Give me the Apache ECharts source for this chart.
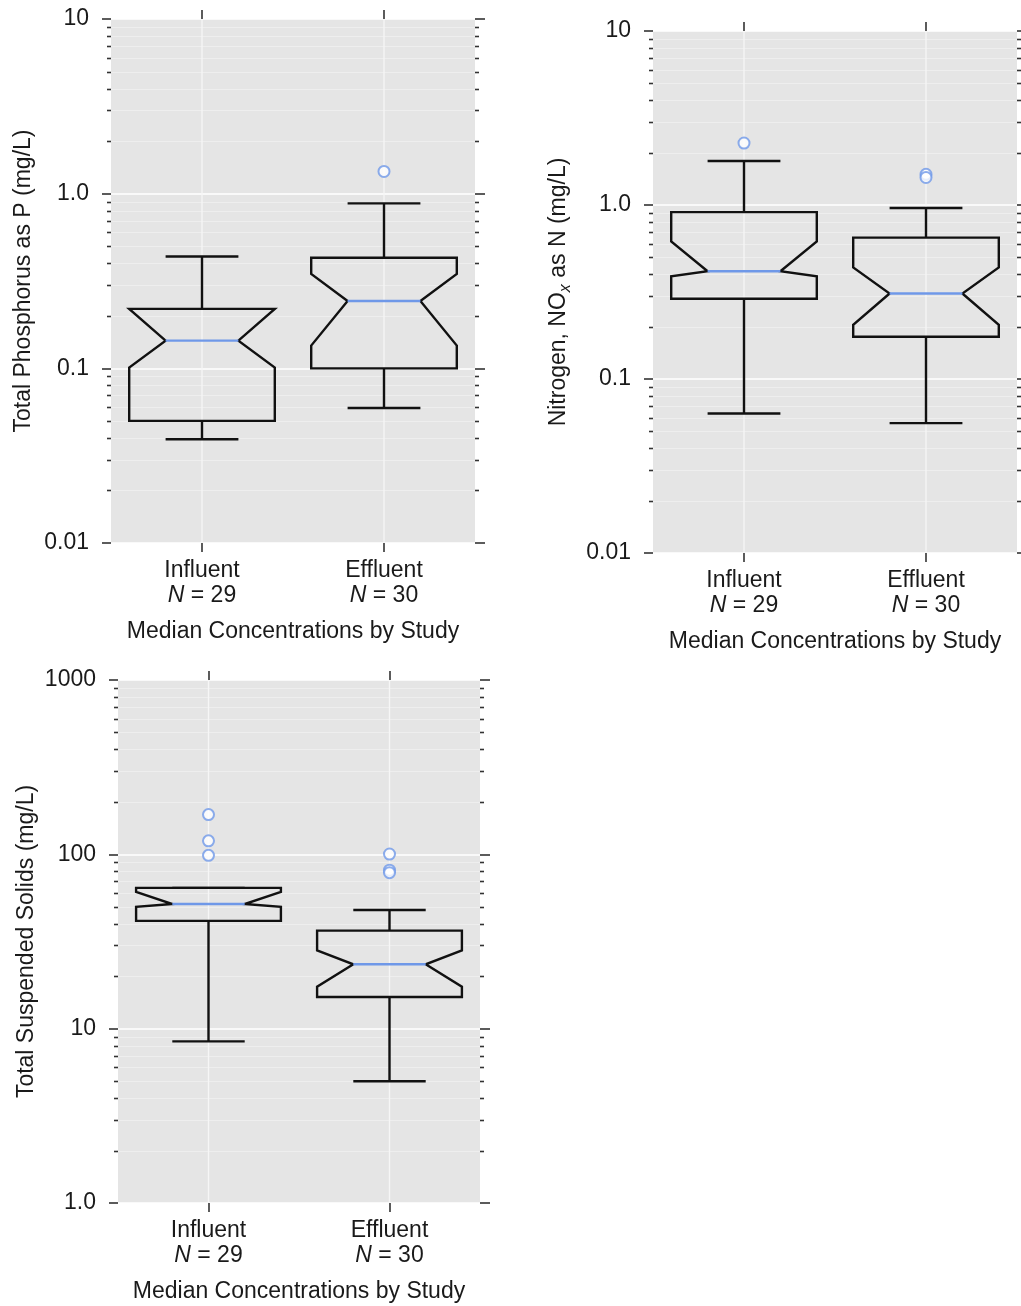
<!DOCTYPE html>
<html>
<head>
<meta charset="utf-8">
<script src="https://cdn.jsdelivr.net/npm/echarts@6/dist/echarts.min.js"></script>
<style>
  html, body { margin: 0; padding: 0; background: #ffffff; }
  #chart { width: 1021px; height: 1306px; }
</style>
</head>
<body>
<div id="chart"></div>
<script>
// Study categories and sample sizes
const categories = ['Influent', 'Effluent'];
const sampleCounts = [29, 30];

// Box statistics per category:
// [lowWhisker, q1, notchLow, median, notchHigh, q3, highWhisker]
const tpInfluent = [0.0393, 0.050, 0.101, 0.144, 0.219, 0.219, 0.437];
const tpEffluent = [0.0593, 0.100, 0.135, 0.243, 0.347, 0.430, 0.880];
const tpOutliers = [[1, 1.34]];

const noxInfluent = [0.0634, 0.289, 0.389, 0.416, 0.617, 0.910, 1.79];
const noxEffluent = [0.0558, 0.175, 0.205, 0.310, 0.438, 0.649, 0.962];
const noxOutliers = [[0, 2.27], [1, 1.50], [1, 1.44]];

const tssInfluent = [8.46, 41.5, 50.0, 51.9, 60.8, 64.2, 64.2];
const tssEffluent = [4.99, 15.2, 17.4, 23.4, 28.1, 36.5, 47.9];
const tssOutliers = [[0, 169], [0, 119.5], [0, 98.7], [1, 100.4], [1, 81.1], [1, 78.5]];

// Axis ticks
const lowTicks = [0.01, 0.1, 1, 10];
const lowTickLabels = ['0.01', '0.1', '1.0', '10'];
const lowMinorTicks = [0.02, 0.03, 0.04, 0.05, 0.06, 0.07, 0.08, 0.09,
                       0.2, 0.3, 0.4, 0.5, 0.6, 0.7, 0.8, 0.9,
                       2, 3, 4, 5, 6, 7, 8, 9];
const tssTicks = [1, 10, 100, 1000];
const tssTickLabels = ['1.0', '10', '100', '1000'];
const tssMinorTicks = [2, 3, 4, 5, 6, 7, 8, 9,
                       20, 30, 40, 50, 60, 70, 80, 90,
                       200, 300, 400, 500, 600, 700, 800, 900];

const FONT = "'Liberation Sans', Arial, Helvetica, sans-serif";
const TEXT = '#1a1a1a';
const TICK = '#333333';
const BLUE = '#6f98e8';
const PANEL_BG = '#e5e5e5';

const panels = [
  { grid: { left: 111, top: 19, width: 364, height: 524 },
    min: 0.01, max: 10, ticks: lowTicks, labels: lowTickLabels, minor: lowMinorTicks,
    name: 'Total Phosphorus as P (mg/L)', nameGap: 76,
    boxes: [tpInfluent, tpEffluent], outliers: tpOutliers },
  { grid: { left: 653, top: 31, width: 364, height: 522 },
    min: 0.01, max: 10, ticks: lowTicks, labels: lowTickLabels, minor: lowMinorTicks,
    name: '{t|Nitrogen, NO}{s|x}{t| as N (mg/L)}', nameGap: 79,
    boxes: [noxInfluent, noxEffluent], outliers: noxOutliers },
  { grid: { left: 118, top: 680, width: 362, height: 523 },
    min: 1, max: 1000, ticks: tssTicks, labels: tssTickLabels, minor: tssMinorTicks,
    name: 'Total Suspended Solids (mg/L)', nameGap: 80,
    boxes: [tssInfluent, tssEffluent], outliers: tssOutliers }
];

function tickFormatter(ticks, labels) {
  return function (v) {
    for (let i = 0; i < ticks.length; i++) {
      if (Math.abs(Math.log10(ticks[i]) - Math.log10(v)) < 1e-6) return labels[i];
    }
    return '';
  };
}

// Faint minor grid lines plus short minor ticks on both vertical edges
function renderMinor(params, api) {
  const cs = params.coordSys;
  const y = Math.round(api.coord([0, api.value(1)])[1]) + 0.5;
  return {
    type: 'group',
    children: [
      { type: 'line', shape: { x1: cs.x, y1: y, x2: cs.x + cs.width, y2: y },
        style: { stroke: '#eeeeee', lineWidth: 1 } },
      { type: 'line', shape: { x1: cs.x - 4, y1: y, x2: cs.x, y2: y },
        style: { stroke: TICK, lineWidth: 1.6 } },
      { type: 'line', shape: { x1: cs.x + cs.width, y1: y, x2: cs.x + cs.width + 4, y2: y },
        style: { stroke: TICK, lineWidth: 1.6 } }
    ]
  };
}

// Notched box with whiskers and a median line
function renderBox(params, api) {
  const cs = params.coordSys;
  const cat = api.value(0);
  const wl = api.value(1), q1 = api.value(2), nl = api.value(3), med = api.value(4),
        nh = api.value(5), q3 = api.value(6), wh = api.value(7);
  const band = api.size([1, 1], [cat, med])[0];
  const half = band * 0.4;
  const notch = half * 0.5;
  const cap = half * 0.5;
  const cx = api.coord([cat, med])[0];
  const y = v => api.coord([cat, v])[1];
  const black = { stroke: '#111111', lineWidth: 2.4, fill: null };
  return {
    type: 'group',
    children: [
      { type: 'line', z2: 0, shape: { x1: cx, y1: cs.y, x2: cx, y2: cs.y + cs.height },
        style: { stroke: '#f6f6f6', lineWidth: 1.3 } },
      { type: 'line', z2: 1, shape: { x1: cx, y1: y(q3), x2: cx, y2: y(wh) }, style: black },
      { type: 'line', z2: 1, shape: { x1: cx - cap, y1: y(wh), x2: cx + cap, y2: y(wh) }, style: black },
      { type: 'line', z2: 1, shape: { x1: cx, y1: y(q1), x2: cx, y2: y(wl) }, style: black },
      { type: 'line', z2: 1, shape: { x1: cx - cap, y1: y(wl), x2: cx + cap, y2: y(wl) }, style: black },
      { type: 'polygon', z2: 2, shape: { points: [
          [cx - half, y(q3)], [cx + half, y(q3)], [cx + half, y(nh)],
          [cx + notch, y(med)], [cx + half, y(nl)], [cx + half, y(q1)],
          [cx - half, y(q1)], [cx - half, y(nl)], [cx - notch, y(med)],
          [cx - half, y(nh)] ] },
        style: { stroke: '#111111', lineWidth: 2.4, fill: null, lineJoin: 'miter' } },
      { type: 'line', z2: 3, shape: { x1: cx - notch, y1: y(med), x2: cx + notch, y2: y(med) },
        style: { stroke: BLUE, lineWidth: 2.4 } }
    ]
  };
}

const grids = [], xAxes = [], yAxes = [], series = [];

panels.forEach((p, i) => {
  grids.push(Object.assign({ show: true, backgroundColor: PANEL_BG, borderWidth: 0 }, p.grid));

  // bottom category axis with labels and title
  xAxes.push({
    type: 'category', gridIndex: i, data: categories, position: 'bottom',
    boundaryGap: true,
    axisLine: { show: false },
    axisTick: { show: true, alignWithLabel: true, length: 9, lineStyle: { color: TICK, width: 1.6 } },
    splitLine: { show: false },
    axisLabel: {
      margin: 15, interval: 0,
      formatter: (v, idx) => '{n|' + v + '}\n{i|N}{n| = ' + sampleCounts[idx] + '}',
      rich: {
        n: { fontFamily: FONT, fontSize: 23, color: TEXT, lineHeight: 25 },
        i: { fontFamily: FONT, fontSize: 23, color: TEXT, lineHeight: 25, fontStyle: 'italic' }
      }
    },
    name: 'Median Concentrations by Study', nameLocation: 'middle', nameGap: 77,
    nameTextStyle: { fontFamily: FONT, fontSize: 23, color: TEXT }
  });
  // top category axis carrying only the ticks
  xAxes.push({
    type: 'category', gridIndex: i, data: categories, position: 'top',
    boundaryGap: true,
    axisLine: { show: false },
    axisTick: { show: true, alignWithLabel: true, length: 9, lineStyle: { color: TICK, width: 1.6 } },
    axisLabel: { show: false }, splitLine: { show: false }
  });

  const nameRich = {
    t: { fontFamily: FONT, fontSize: 23, color: TEXT, lineHeight: 30 },
    s: { fontFamily: FONT, fontSize: 16, color: TEXT, fontStyle: 'italic', lineHeight: 16, verticalAlign: 'bottom' }
  };

  yAxes.push({
    type: 'log', logBase: 10, gridIndex: i, min: p.min, max: p.max, position: 'left',
    axisLine: { show: false },
    axisTick: { show: true, length: 9, lineStyle: { color: TICK, width: 1.6 } },
    splitLine: { show: true, lineStyle: { color: '#ffffff', width: 1.5 } },
    axisLabel: { margin: 22, fontFamily: FONT, fontSize: 23, color: TEXT,
                 formatter: tickFormatter(p.ticks, p.labels) },
    name: p.name, nameLocation: 'middle', nameGap: p.nameGap, nameRotate: 90,
    nameTextStyle: { fontFamily: FONT, fontSize: 23, color: TEXT, rich: nameRich }
  });
  yAxes.push({
    type: 'log', logBase: 10, gridIndex: i, min: p.min, max: p.max, position: 'right',
    axisLine: { show: false },
    axisTick: { show: true, length: 10, lineStyle: { color: TICK, width: 1.6 } },
    splitLine: { show: false },
    axisLabel: { show: false }
  });

  series.push({
    type: 'custom', xAxisIndex: 2 * i, yAxisIndex: 2 * i, z: 1,
    renderItem: renderMinor, silent: true,
    data: p.minor.map(v => [0, v]), encode: { x: 0, y: 1 }
  });
  series.push({
    type: 'custom', xAxisIndex: 2 * i, yAxisIndex: 2 * i, z: 2,
    renderItem: renderBox, silent: true,
    data: p.boxes.map((b, k) => [k].concat(b)),
    encode: { x: 0, y: [1, 2, 3, 4, 5, 6, 7] }
  });
  series.push({
    type: 'scatter', xAxisIndex: 2 * i, yAxisIndex: 2 * i, z: 3,
    symbol: 'emptyCircle', symbolSize: 11, silent: true,
    itemStyle: { color: BLUE, borderColor: BLUE, borderWidth: 1.8 },
    data: p.outliers
  });
});

const chart = echarts.init(document.getElementById('chart'), null, { renderer: 'canvas' });
chart.setOption({
  animation: false,
  backgroundColor: '#ffffff',
  grid: grids,
  xAxis: xAxes,
  yAxis: yAxes,
  series: series
});
</script>
</body>
</html>
